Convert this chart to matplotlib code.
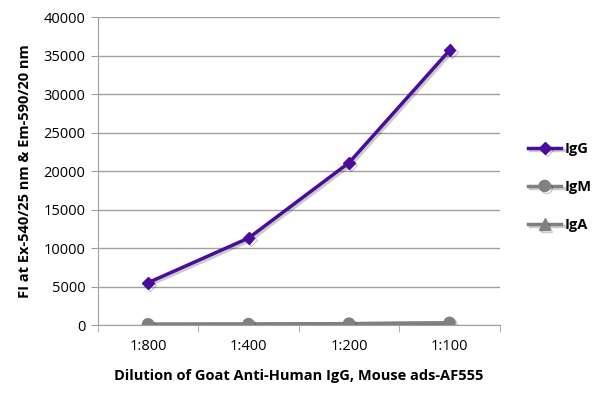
import matplotlib
matplotlib.use('Agg')
import matplotlib.pyplot as plt
import matplotlib.patheffects as pe

# data -------------------------------------
dilutions = ['1:800', '1:400', '1:200', '1:100']
igg = [5500, 11300, 21100, 35700]
igm = [100, 120, 180, 280]
iga = [90, 110, 160, 250]

plt.rcParams['font.family'] = ['Open Sans', 'DejaVu Sans']

fig = plt.figure(figsize=(6, 3.98), dpi=100)
ax = fig.add_axes([0.163, 0.1834, 0.670, 0.7732])

x = list(range(len(dilutions)))
shadow = [pe.SimpleLineShadow(offset=(1.5, -1.5), alpha=0.2), pe.Normal()]

ax.plot(x, iga, color='#808080', lw=2.5, marker='^', ms=8, label='IgA', path_effects=shadow, zorder=3)
ax.plot(x, igm, color='#808080', lw=2.5, marker='o', ms=8, label='IgM', path_effects=shadow, zorder=4)
ax.plot(x, igg, color='#4b0c9e', lw=2.5, marker='D', ms=6, label='IgG', path_effects=shadow, zorder=5)

ax.set_xlim(-0.5, 3.5)
ax.set_ylim(0, 40000)
ax.set_yticks(range(0, 40001, 5000))
ax.set_xticks(x)
ax.set_xticklabels(dilutions)
ax.set_xticks([-0.5, 0.5, 1.5, 2.5, 3.5], minor=True)
ax.tick_params(axis='x', which='major', length=0, labelsize=10.5, pad=10)
ax.tick_params(axis='x', which='minor', length=5, color='#a0a0a0', direction='out')
ax.tick_params(axis='y', length=5, color='#a0a0a0', labelsize=10.5, pad=4)

ax.grid(axis='y', color='#a0a0a0', lw=1)
ax.set_axisbelow(True)
for s in ['top', 'right']:
    ax.spines[s].set_visible(False)
ax.spines['left'].set_color('#a0a0a0')
ax.spines['bottom'].set_color('#a0a0a0')

ax.set_xlabel('Dilution of Goat Anti-Human IgG, Mouse ads-AF555', fontsize=10.5, fontweight='bold', labelpad=11)
ax.set_ylabel('FI at Ex-540/25 nm & Em-590/20 nm', fontsize=10.5, fontweight='bold', labelpad=8)

h, l = ax.get_legend_handles_labels()
order = [2, 1, 0]
leg = fig.legend([h[i] for i in order], [l[i] for i in order], loc='center left',
                 bbox_to_anchor=(0.858, 0.53), frameon=False, handlelength=2.3,
                 handletextpad=0.2, labelspacing=1.65, prop={'weight': 'bold', 'size': 10.5})

plt.savefig('out.png', dpi=100)
